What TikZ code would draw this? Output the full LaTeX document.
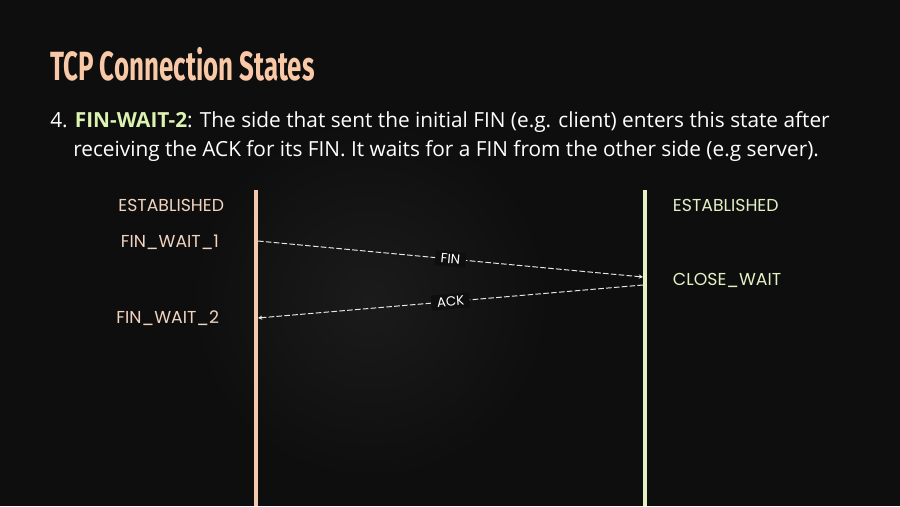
\documentclass[tikz,border=0pt]{standalone}
\usepackage{fontspec}
\usepackage{graphicx}
\setmainfont{Open Sans}
\newfontfamily\labelfont{Poppins}
\newfontfamily\titlefont{Fira Sans}
\usetikzlibrary{arrows,arrows.meta,calc}
\definecolor{bgdark}{HTML}{0E0E0E}
\definecolor{bglight}{HTML}{1B1B1B}
\definecolor{titlepeach}{HTML}{F9C8A6}
\definecolor{peachtxt}{HTML}{F2D3BE}
\definecolor{peachline}{HTML}{F2C9AC}
\definecolor{greentxt}{HTML}{E2F0C4}
\definecolor{greenline}{HTML}{E3F2C0}
\definecolor{keygreen}{HTML}{DCF3B2}
\definecolor{msgwhite}{HTML}{E6E6E6}

\begin{document}
\begin{tikzpicture}[x=0.025cm,y=-0.025cm,
		lbl/.style={font=\labelfont\fontsize{12.3}{14}\selectfont},
		body/.style={font=\fontsize{14.8}{17}\selectfont,text=white,anchor=base west,inner sep=0pt},
		msg/.style={draw=msgwhite,dash pattern=on 4pt off 1.6pt,line width=0.7pt,-{Stealth[length=3pt,width=3pt]}},
		tag/.style={fill=bgdark,text=white,font=\labelfont\fontsize{9.5}{11}\selectfont,sloped,inner xsep=4pt,inner ysep=2pt}]
		\fill[bgdark] (0,0) rectangle (900,506);
		\shade[inner color=bglight,outer color=bgdark] (370,300) circle (180);
		\useasboundingbox (0,0) rectangle (900,506);
		\node[anchor=base west,inner sep=0pt,text=titlepeach,font=\titlefont\bfseries\fontsize{29}{32}\selectfont] (title) at (50,80) {\scalebox{0.635}[1]{TCP Connection States}};
		\node[body] (line1) at (50,127) {4. \textbf{\color{keygreen}FIN-WAIT-2}: The side that sent the initial FIN (e.g. client) enters this state after};
		\node[body] (line2) at (73,156) {receiving the ACK for its FIN. It waits for a FIN from the other side (e.g server).};
		\coordinate (ctop) at (256,190);
		\coordinate (cbot) at (256,506);
		\coordinate (stop) at (645,190);
		\coordinate (sbot) at (645,506);
		\draw[peachline,line width=2.2pt] (ctop) -- (cbot);
		\draw[greenline,line width=2.2pt] (stop) -- (sbot);
		\node[lbl,text=peachtxt,anchor=east] (est1) at (229,205) {ESTABLISHED};
		\node[lbl,text=peachtxt,anchor=east] (fw1) at (224,242) {FIN\_WAIT\_1};
		\node[lbl,text=peachtxt,anchor=east] (fw2) at (224,318) {FIN\_WAIT\_2};
		\node[lbl,text=greentxt,anchor=west] (est2) at (668,205) {ESTABLISHED};
		\node[lbl,text=greentxt,anchor=west] (cw) at (668,280) {CLOSE\_WAIT};
		\coordinate (fin1) at (258,241);
		\coordinate (fin2) at (643,277);
		\coordinate (ack1) at (643,285);
		\coordinate (ack2) at (258,318);
		\draw[msg] (fin1) -- node[tag] (fin) {FIN} (fin2);
		\draw[msg] (ack1) -- node[tag] (ack) {ACK} (ack2);
	\end{tikzpicture}
\end{document}
